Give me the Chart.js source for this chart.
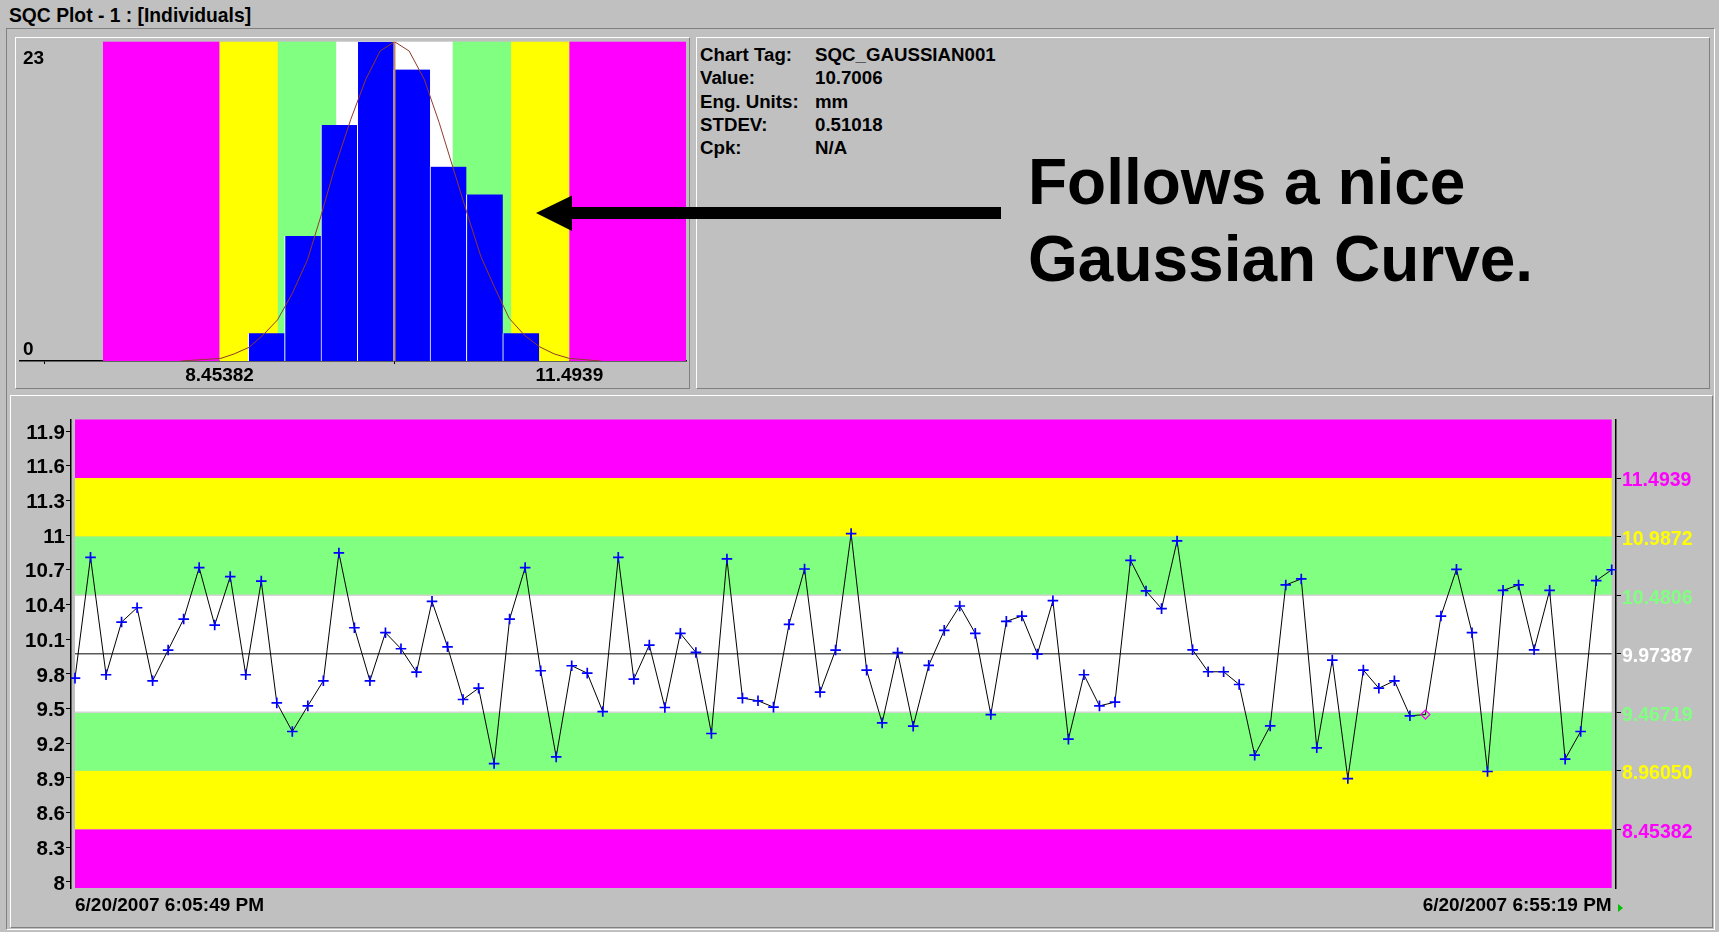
<!DOCTYPE html>
<html>
<head>
<meta charset="utf-8">
<title>SQC Plot - 1 : [Individuals]</title>
<script src="https://cdn.jsdelivr.net/npm/chart.js@4.4.1/dist/chart.umd.min.js"></script>
<style>
  html, body { margin: 0; padding: 0; }
  body {
    width: 1719px; height: 932px; position: relative; overflow: hidden;
    background: #c0c0c0; color: #000;
    font-family: 'Liberation Sans', Arial, sans-serif; font-weight: bold;
  }
  .abs { position: absolute; }
  #title { left: 9px; top: 5px; font-size: 19.3px; line-height: 22px; }
  #frame { left: 6px; top: 28px; width: 1707px; height: 900px;
    border-top: 1px solid #808080; border-left: 1px solid #808080;
    border-right: 1px solid #fff; border-bottom: 1px solid #fff; }
  .panel { border-top: 1px solid #fff; border-left: 1px solid #fff;
    border-right: 1px solid #808080; border-bottom: 1px solid #808080; box-sizing: border-box; }
  #histPanel { left: 15px; top: 37px; width: 675px; height: 352px; }
  #infoPanel { left: 696px; top: 37px; width: 1014px; height: 352px; }
  #chartPanel { left: 10px; top: 395px; width: 1703px; height: 533px; }
  #info { left: 700px; top: 43px; font-size: 18.7px; line-height: 23.3px; }
  #info .row { white-space: nowrap; }
  #info .lbl { display: inline-block; width: 115px; }
  #note { left: 1028px; top: 144px; font-size: 64px; line-height: 77px; white-space: nowrap; }
  #arrow { left: 0; top: 0; }
  canvas { position: absolute; }
</style>
</head>
<body>
<div id="title" class="abs">SQC Plot - 1 : [Individuals]</div>
<div id="frame" class="abs"></div>
<div id="histPanel" class="abs panel"></div>
<div id="infoPanel" class="abs panel"></div>
<div id="chartPanel" class="abs panel"></div>
<canvas id="histChart" width="672" height="349" style="left:16px; top:38px;"></canvas>
<canvas id="sqcChart" width="1700" height="530" style="left:11px; top:396px;"></canvas>
<div id="info" class="abs"></div>
<div id="note" class="abs"></div>
<svg id="arrow" class="abs" width="1719" height="932">
  <polygon points="536,213 572,195.5 572,207 1001,207 1001,219 572,219 572,231" fill="#000"/>
</svg>
<script>
const infoLabels = ['Chart Tag:', 'Value:', 'Eng. Units:', 'STDEV:', 'Cpk:'];
const infoValues = ['SQC_GAUSSIAN001', '10.7006', 'mm', '0.51018', 'N/A'];
const noteLines = ['Follows a nice', 'Gaussian Curve.'];

// control limits, top to bottom (UCL3 .. LCL3)
const limitValues = [11.4939, 10.9872, 10.4806, 9.97387, 9.46719, 8.96050, 8.45382];
const limitLabels = ['11.4939', '10.9872', '10.4806', '9.97387', '9.46719', '8.96050', '8.45382'];
const limitColors = ['#ff00ff', '#ffff00', '#80ff80', '#ffffff', '#80ff80', '#ffff00', '#ff00ff'];
const zoneColors = ['#ff00ff', '#ffff00', '#80ff80', '#ffffff', '#80ff80', '#ffff00', '#ff00ff'];

const yRange = [7.94719, 12.00055];
const yTickValues = [8, 8.3, 8.6, 8.9, 9.2, 9.5, 9.8, 10.1, 10.4, 10.7, 11, 11.3, 11.6, 11.9];
const yTickLabels = ['8', '8.3', '8.6', '8.9', '9.2', '9.5', '9.8', '10.1', '10.4', '10.7', '11', '11.3', '11.6', '11.9'];
const timeLabels = ['6/20/2007 6:05:49 PM', '6/20/2007 6:55:19 PM'];

const individuals = [
  9.763, 10.808, 9.792, 10.248, 10.372, 9.740, 10.006, 10.274, 10.719, 10.222,
  10.641, 9.792, 10.603, 9.549, 9.301, 9.523, 9.740, 10.846, 10.199, 9.740,
  10.156, 10.017, 9.815, 10.427, 10.034, 9.578, 9.676, 9.024, 10.274, 10.719,
  9.827, 9.082, 9.870, 9.806, 9.474, 10.808, 9.754, 10.049, 9.509, 10.150,
  9.985, 9.284, 10.794, 9.590, 9.567, 9.512, 10.228, 10.707, 9.642, 10.006,
  11.013, 9.832, 9.376, 9.983, 9.347, 9.873, 10.176, 10.387, 10.150, 9.448,
  10.254, 10.300, 9.971, 10.433, 9.235, 9.792, 9.523, 9.555, 10.782, 10.517,
  10.364, 10.950, 10.008, 9.818, 9.818, 9.708, 9.096, 9.350, 10.569, 10.621,
  9.160, 9.919, 8.894, 9.832, 9.676, 9.740, 9.437, 9.448, 10.300, 10.704,
  10.156, 8.955, 10.522, 10.569, 10.008, 10.522, 9.062, 9.301, 10.606, 10.7006
];
const flaggedPoint = 87;

// histogram
const histRange = [6.7192, 12.50722];
const histZoneEdges = [7.44052, 8.45382, 8.96050, 9.46719, 10.4806, 10.9872, 11.4939, 12.50722];
const histTickValues = [8.45382, 11.4939];
const histTickLabels = ['8.45382', '11.4939'];
const histYLabels = [0, 23];
const binCenters = [8.861, 9.177, 9.493, 9.809, 10.125, 10.441, 10.757, 11.073];
const binCounts = [2, 9, 17, 23, 21, 14, 12, 2];
const curveX = [8.117, 8.465, 8.580, 8.711, 8.841, 8.957, 9.087, 9.218, 9.334, 9.450, 9.594, 9.725, 9.849, 9.974,
  10.101, 10.232, 10.362, 10.478, 10.608, 10.724, 10.840, 10.970, 11.101, 11.231, 11.361, 11.492, 11.767];
const curveY = [0, 0.19, 0.51, 0.99, 1.95, 2.96, 4.89, 7.30, 10.43, 13.80, 17.41, 20.30, 22.33, 23.0,
  22.33, 20.30, 17.17, 14.04, 10.55, 7.54, 5.37, 3.08, 1.88, 1.04, 0.51, 0.19, 0];
const meanValue = 9.97387;

document.getElementById('info').innerHTML = infoLabels.map((l, i) =>
  `<div class="row"><span class="lbl">${l}</span>${infoValues[i]}</div>`).join('');
document.getElementById('note').innerHTML = noteLines.join('<br>');

Chart.defaults.font.family = "'Liberation Sans', Arial, sans-serif";
Chart.defaults.font.weight = 'bold';
Chart.defaults.font.size = 19;
Chart.defaults.color = '#000';
Chart.defaults.animation = false;

const zonesPlugin = {
  id: 'zones',
  beforeDatasetsDraw(chart, args, opts) {
    const ctx = chart.ctx;
    const area = chart.chartArea;
    ctx.save();
    if (opts.vertical) {
      const xs = chart.scales.x;
      for (let i = 0; i < zoneColors.length; i++) {
        const x1 = xs.getPixelForValue(histZoneEdges[i]);
        const x2 = xs.getPixelForValue(histZoneEdges[i + 1]);
        ctx.fillStyle = zoneColors[i];
        ctx.fillRect(x1, area.top, x2 - x1, area.bottom - area.top);
      }
    } else {
      const xs = chart.scales.x, ys = chart.scales.y;
      const left = xs.getPixelForValue(0);
      const right = xs.getPixelForValue(individuals.length - 1);
      const edges = [yRange[1]].concat(limitValues.filter(v => v !== meanValue), [yRange[0]]);
      for (let i = 0; i < zoneColors.length; i++) {
        const y1 = ys.getPixelForValue(edges[i]);
        const y2 = ys.getPixelForValue(edges[i + 1]);
        ctx.fillStyle = zoneColors[i];
        ctx.fillRect(left, y1, right - left, y2 - y1);
      }
      ctx.strokeStyle = '#d4d4d4';
      ctx.lineWidth = 1.5;
      [limitValues[2], limitValues[4]].forEach(v => {
        const y = ys.getPixelForValue(v);
        ctx.beginPath(); ctx.moveTo(left, y); ctx.lineTo(right, y); ctx.stroke();
      });
      ctx.strokeStyle = '#5a5a5a';
      ctx.lineWidth = 1.6;
      const yc = ys.getPixelForValue(meanValue);
      ctx.beginPath(); ctx.moveTo(left, yc); ctx.lineTo(right, yc); ctx.stroke();
    }
    ctx.restore();
  },
  afterDraw(chart, args, opts) {
    const ctx = chart.ctx;
    const area = chart.chartArea;
    ctx.save();
    if (opts.vertical) {
      const ys = chart.scales.y;
      ctx.fillStyle = '#000';
      ctx.textAlign = 'left';
      ctx.textBaseline = 'middle';
      ctx.font = "bold 19px 'Liberation Sans', Arial, sans-serif";
      histYLabels.forEach(v => {
        const y = ys.getPixelForValue(v) + (v === 0 ? -11 : 17);
        ctx.fillText(String(v), area.left + 3, y);
      });
    } else {
      const y = area.bottom + 20;
      const x = area.right + 2;
      ctx.fillStyle = '#00c000';
      ctx.beginPath();
      ctx.moveTo(x, y - 4); ctx.lineTo(x + 5, y); ctx.lineTo(x, y + 4);
      ctx.closePath(); ctx.fill();
    }
    ctx.restore();
  }
};

new Chart(document.getElementById('histChart'), {
  type: 'bar',
  data: {
    datasets: [
      {
        type: 'line',
        data: curveX.map((x, i) => ({ x: x, y: curveY[i] })),
        borderColor: '#8e3b2e',
        borderWidth: 1,
        pointRadius: 0,
        tension: 0,
        order: 1
      },
      {
        type: 'line',
        data: [{ x: meanValue, y: 0 }, { x: meanValue, y: 23 }],
        borderColor: '#c08a6a',
        borderWidth: 2,
        pointRadius: 0,
        order: 2
      },
      {
        type: 'bar',
        data: binCenters.map((x, i) => ({ x: x, y: binCounts[i] })),
        backgroundColor: '#0000ff',
        borderColor: '#ffffff',
        borderWidth: { left: 1, right: 0, top: 0, bottom: 0 },
        barPercentage: 1,
        categoryPercentage: 1,
        order: 3
      }
    ]
  },
  options: {
    responsive: false,
    events: [],
    layout: { padding: { left: 4, right: 2, top: 3.7, bottom: 0 }, autoPadding: false },
    plugins: { legend: { display: false }, tooltip: { enabled: false }, zones: { vertical: true } },
    scales: {
      x: {
        type: 'linear',
        min: histRange[0],
        max: histRange[1],
        offset: false,
        afterBuildTicks: s => { s.ticks = histTickValues.map(v => ({ value: v })); },
        afterFit: s => { s.height = 26; },
        ticks: { callback: (v, i) => histTickLabels[i], padding: 0, maxRotation: 0, autoSkip: false },
        grid: { drawOnChartArea: false, drawTicks: true, tickLength: 3, color: '#000' },
        border: { display: true, color: '#000', width: 1.5 }
      },
      y: { display: false, min: 0, max: 23 }
    }
  },
  plugins: [zonesPlugin]
});

new Chart(document.getElementById('sqcChart'), {
  type: 'line',
  data: {
    datasets: [{
      data: individuals.map((v, i) => ({ x: i, y: v })),
      borderColor: '#000',
      borderWidth: 1,
      tension: 0,
      pointStyle: individuals.map((v, i) => i === flaggedPoint ? 'rectRot' : 'cross'),
      pointRadius: individuals.map((v, i) => i === flaggedPoint ? 4.5 : 5.3),
      pointBorderColor: individuals.map((v, i) => i === flaggedPoint ? '#ff00ff' : '#0000ff'),
      pointBackgroundColor: 'rgba(0,0,0,0)',
      pointBorderWidth: individuals.map((v, i) => i === flaggedPoint ? 1.2 : 1.7)
    }]
  },
  options: {
    responsive: false,
    events: [],
    layout: { padding: { left: 0, right: 0, top: 23.5, bottom: 0 }, autoPadding: false },
    plugins: { legend: { display: false }, tooltip: { enabled: false }, zones: { vertical: false } },
    scales: {
      x: {
        type: 'linear',
        min: -0.258,
        max: 99.277,
        afterBuildTicks: s => { s.ticks = [{ value: 0 }, { value: individuals.length - 1 }]; },
        afterFit: s => { s.height = 38; },
        ticks: { callback: (v, i) => timeLabels[i], align: 'inner', padding: 6, maxRotation: 0, autoSkip: false },
        grid: { display: false, drawTicks: false },
        border: { display: false }
      },
      y: {
        position: 'left',
        min: yRange[0],
        max: yRange[1],
        afterBuildTicks: s => { s.ticks = yTickValues.map(v => ({ value: v })); },
        afterFit: s => { s.width = 60; },
        ticks: { callback: (v, i) => yTickLabels[i], padding: 1, autoSkip: false, labelOffset: 2, font: { size: 20.5 } },
        grid: { drawOnChartArea: false, drawTicks: true, tickLength: 5, color: '#000' },
        border: { display: true, color: '#000', width: 1.5 }
      },
      y2: {
        position: 'right',
        min: yRange[0],
        max: yRange[1],
        afterBuildTicks: s => { s.ticks = limitValues.map(v => ({ value: v })); },
        afterFit: s => { s.width = 95; },
        ticks: { callback: (v, i) => limitLabels[i], color: c => limitColors[c.index], padding: 1, autoSkip: false, labelOffset: 3, font: { size: 19.5 } },
        grid: { drawOnChartArea: false, drawTicks: true, tickLength: 5, color: '#000' },
        border: { display: true, color: '#000', width: 1.5 }
      }
    }
  },
  plugins: [zonesPlugin]
});
</script>
</body>
</html>
